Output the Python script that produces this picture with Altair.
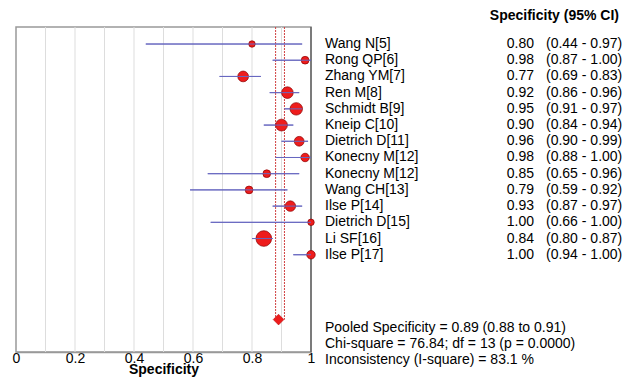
import altair as alt
import pandas as pd

studies = ["Wang N[5]", "Rong QP[6]", "Zhang YM[7]", "Ren M[8]", "Schmidt B[9]",
           "Kneip C[10]", "Dietrich D[11]", "Konecny M[12]", "Konecny M[12]",
           "Wang CH[13]", "Ilse P[14]", "Dietrich D[15]", "Li SF[16]", "Ilse P[17]"]
spec = [0.80, 0.98, 0.77, 0.92, 0.95, 0.90, 0.96, 0.98, 0.85, 0.79, 0.93, 1.00, 0.84, 1.00]
lo = [0.44, 0.87, 0.69, 0.86, 0.91, 0.84, 0.90, 0.88, 0.65, 0.59, 0.87, 0.66, 0.80, 0.94]
hi = [0.97, 1.00, 0.83, 0.96, 0.97, 0.94, 0.99, 1.00, 0.96, 0.92, 0.97, 1.00, 0.87, 1.00]
weight = [42, 60, 115, 135, 155, 140, 95, 72, 60, 60, 110, 42, 245, 72]

pooled = 0.89
pooled_lo = 0.88
pooled_hi = 0.91
stats_lines = ["Pooled Specificity = 0.89 (0.88 to 0.91)",
               "Chi-square = 76.84; df =  13 (p = 0.0000)",
               "Inconsistency (I-square) = 83.1 %"]
tick_values = [0, 0.2, 0.4, 0.6, 0.8, 1.0]
grid_values = [0.1, 0.2, 0.3, 0.4, 0.5, 0.6, 0.7, 0.8, 0.9]

ROW_MIN, ROW_MAX = -1.05, 19.0
POOLED_ROW = 17

df = pd.DataFrame({
    "study": studies, "spec": spec, "lo": lo, "hi": hi, "w": weight,
    "row": list(range(len(studies))),
})
df["val"] = [f"{v:.2f}" for v in spec]
df["ci"] = [f"({a:.2f} - {b:.2f})" for a, b in zip(lo, hi)]

pool_df = pd.DataFrame({"est": [pooled], "row": [POOLED_ROW]})
pool_ci_df = pd.DataFrame({"x": [pooled_lo, pooled_hi], "top": [ROW_MIN, ROW_MIN],
                           "row": [POOLED_ROW, POOLED_ROW]})
stats_df = pd.DataFrame({"txt": stats_lines, "row": [17.5, 18.5, 19.5]})
grid_df = pd.DataFrame({"g": grid_values})

FONT = "Liberation Sans"
xs = alt.Scale(domain=[0, 1], nice=False, zero=False)
ys = alt.Scale(domain=[ROW_MIN, ROW_MAX], reverse=True, nice=False, zero=False)

xaxis = alt.Axis(values=tick_values, format="~g", title="Specificity", grid=False,
                 ticks=False, labelFlush=False, labelFontSize=14, labelFont=FONT,
                 labelColor="black", titleFont=FONT, titleFontSize=14,
                 titleFontWeight="bold", titleColor="black", domainColor="#999999",
                 domainWidth=1.5, labelPadding=-1, titlePadding=-3)

grid = alt.Chart(grid_df).mark_rule(color="#dddddd", strokeWidth=1).encode(
    x=alt.X("g:Q", scale=xs, axis=xaxis))

right_edge = alt.Chart(pd.DataFrame({"e": [1.0]})).mark_rule(color="#444444", strokeWidth=1).encode(
    x=alt.X("e:Q", scale=xs))

pool_lines = alt.Chart(pool_ci_df).mark_rule(color="#d04040", strokeWidth=1, strokeDash=[2, 1]).encode(
    x=alt.X("x:Q", scale=xs), y=alt.Y("top:Q", scale=ys, axis=None), y2="row:Q")

ci = alt.Chart(df).mark_rule(color="#6868c0", strokeWidth=1).encode(
    x=alt.X("lo:Q", scale=xs), x2="hi:Q", y=alt.Y("row:Q", scale=ys, axis=None))

pts = alt.Chart(df).mark_point(filled=True, shape="circle", color="#ee1c1c", opacity=1,
                               stroke="#8a0000", strokeWidth=0.7).encode(
    x=alt.X("spec:Q", scale=xs), y=alt.Y("row:Q", scale=ys),
    size=alt.Size("w:Q", scale=None, legend=None))

ci_center = alt.Chart(df).mark_rule(color="#6868c0", strokeWidth=1).encode(
    x=alt.X("lo:Q", scale=xs), x2="hi:Q", y=alt.Y("row:Q", scale=ys))

diamond = alt.Chart(pool_df).mark_point(filled=True, shape="diamond", color="#ee1c1c",
                                        opacity=1, size=115, stroke="#b00000", strokeWidth=0.5).encode(
    x=alt.X("est:Q", scale=xs), y=alt.Y("row:Q", scale=ys))

names = alt.Chart(df).mark_text(align="left", baseline="middle", font=FONT, fontSize=14,
                                color="black").encode(
    x=alt.value(309), y=alt.Y("row:Q", scale=ys), text="study:N")
vals = alt.Chart(df).mark_text(align="right", baseline="middle", font=FONT, fontSize=14,
                               color="black").encode(
    x=alt.value(518), y=alt.Y("row:Q", scale=ys), text="val:N")
cis = alt.Chart(df).mark_text(align="left", baseline="middle", font=FONT, fontSize=14,
                              color="black").encode(
    x=alt.value(530), y=alt.Y("row:Q", scale=ys), text="ci:N")
header = alt.Chart(pd.DataFrame({"h": ["Specificity (95% CI)"]})).mark_text(
    align="right", baseline="middle", font=FONT, fontSize=14, fontWeight="bold",
    color="black").encode(x=alt.value(603), y=alt.value(-11.5), text="h:N")
stats = alt.Chart(stats_df).mark_text(align="left", baseline="middle", font=FONT, fontSize=14,
                                      color="black").encode(
    x=alt.value(309), y=alt.Y("row:Q", scale=ys), text="txt:N")

chart = alt.layer(grid, right_edge, pool_lines, ci, pts, ci_center, diamond,
                  names, vals, cis, header, stats).properties(
    width=295, height=325,
    autosize=alt.AutoSizeParams(type="none"),
    padding={"left": 8, "top": 19, "right": 311, "bottom": 26},
    background="white",
).configure_view(stroke="#999999", strokeWidth=1.5)

chart.save("out.html", embed_options={"renderer": "svg", "actions": False})
